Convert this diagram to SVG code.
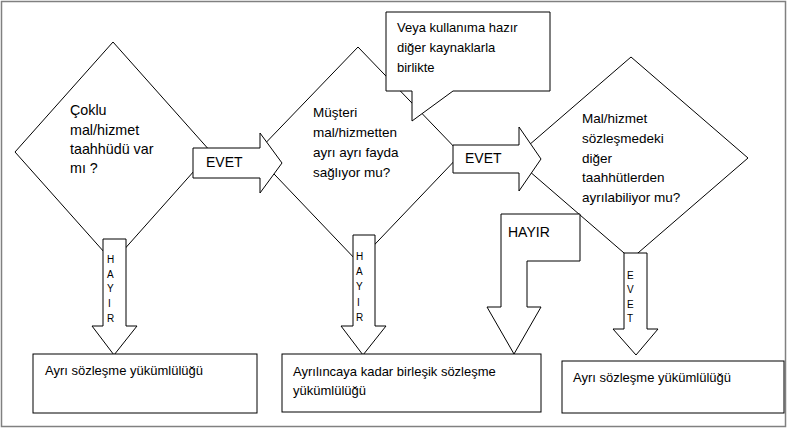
<svg xmlns="http://www.w3.org/2000/svg" width="787" height="428" viewBox="0 0 787 428">
<style>
.s{fill:#fff;stroke:#000;stroke-width:1}
.t{font-family:"Liberation Sans",Arial,sans-serif;font-size:13.5px;fill:#000}
.t1{font-size:14.3px}
.b{font-family:"Liberation Sans",Arial,sans-serif;font-size:13px;fill:#000}
.l{font-family:"Liberation Sans",Arial,sans-serif;font-size:14px;fill:#000}
.v{font-family:"Liberation Sans",Arial,sans-serif;font-size:10px;fill:#000}
</style>
<rect x="1.5" y="1.5" width="784" height="425" fill="#fff" stroke="#808080" stroke-width="1.5"/>
<g id="d1">
<polygon class="s" points="113,42 211,152 113,262 15,152"/>
<text class="t t1" x="70" y="115">Çoklu</text>
<text class="t t1" x="70" y="134.5">mal/hizmet</text>
<text class="t t1" x="70" y="154">taahhüdü var</text>
<text class="t t1" x="70" y="173">mı ?</text>
</g>
<g id="d2">
<polygon class="s" points="358,47 461,154 358,262 255,154"/>
<text class="t" x="313" y="117">Müşteri</text>
<text class="t" x="313" y="137">mal/hizmetten</text>
<text class="t" x="313" y="157">ayrı ayrı fayda</text>
<text class="t" x="313" y="176.5">sağlıyor mu?</text>
</g>
<g id="d3">
<polygon class="s" points="631,57 748,158 631,259 514,158"/>
<text class="t" x="582" y="122.5">Mal/hizmet</text>
<text class="t" x="582" y="143">sözleşmedeki</text>
<text class="t" x="582" y="162.5">diğer</text>
<text class="t" x="582" y="182">taahhütlerden</text>
<text class="t" x="582" y="202">ayrılabiliyor mu?</text>
</g>
<g id="callout">
<polygon class="s" points="386,12 550,12 550,91 453,91 412,121 412,91 386,91"/>
<text class="b" x="397" y="32">Veya kullanıma hazır</text>
<text class="b" x="397" y="52">diğer kaynaklarla</text>
<text class="b" x="397" y="71.5">birlikte</text>
</g>
<g id="connectors">
<g id="evet1">
<polygon class="s" points="193,148 260,148 260,133 282,163 260,193 260,178 193,178"/>
<text class="l" x="206" y="167">EVET</text>
</g>
<g id="evet2">
<polygon class="s" points="453,145 519,145 519,127 541,159 519,191 519,173 453,173"/>
<text class="l" x="465" y="163">EVET</text>
</g>
<g id="hayir1">
<polygon class="s" points="103,239 126,239 126,326 137,326 114,355 92,326 103,326"/>
<text class="v" x="107" y="263">H</text>
<text class="v" x="107" y="277.5">A</text>
<text class="v" x="107" y="292">Y</text>
<text class="v" x="108" y="307">I</text>
<text class="v" x="107" y="322">R</text>
</g>
<g id="hayir2">
<polygon class="s" points="353,235 375,235 375,326 386,326 363,355 341,326 353,326"/>
<text class="v" x="356" y="260">H</text>
<text class="v" x="356" y="275">A</text>
<text class="v" x="356" y="290">Y</text>
<text class="v" x="357" y="305.5">I</text>
<text class="v" x="356" y="321">R</text>
</g>
<g id="hayir3">
<polygon class="s" points="501,214 580,214 580,261 527,261 527,307 541,307 514,354 487,307 501,307"/>
<text class="l" x="508" y="237">HAYIR</text>
</g>
<g id="evet3">
<polygon class="s" points="624,253 647,253 647,329 658,329 636,355 613,329 624,329"/>
<text class="v" x="627" y="279">E</text>
<text class="v" x="627" y="293">V</text>
<text class="v" x="627" y="307.5">E</text>
<text class="v" x="627" y="322">T</text>
</g>
</g>
<g id="box1">
<rect class="s" x="33" y="354" width="224" height="59"/>
<text class="b" x="45" y="375">Ayrı sözleşme yükümlülüğü</text>
</g>
<g id="box2">
<rect class="s" x="282" y="354" width="259" height="58"/>
<text class="b" x="293" y="376">Ayrılıncaya kadar birleşik sözleşme</text>
<text class="b" x="293" y="395">yükümlülüğü</text>
</g>
<g id="box3">
<rect class="s" x="562" y="361" width="222" height="52"/>
<text class="b" x="573" y="382">Ayrı sözleşme yükümlülüğü</text>
</g>
</svg>
